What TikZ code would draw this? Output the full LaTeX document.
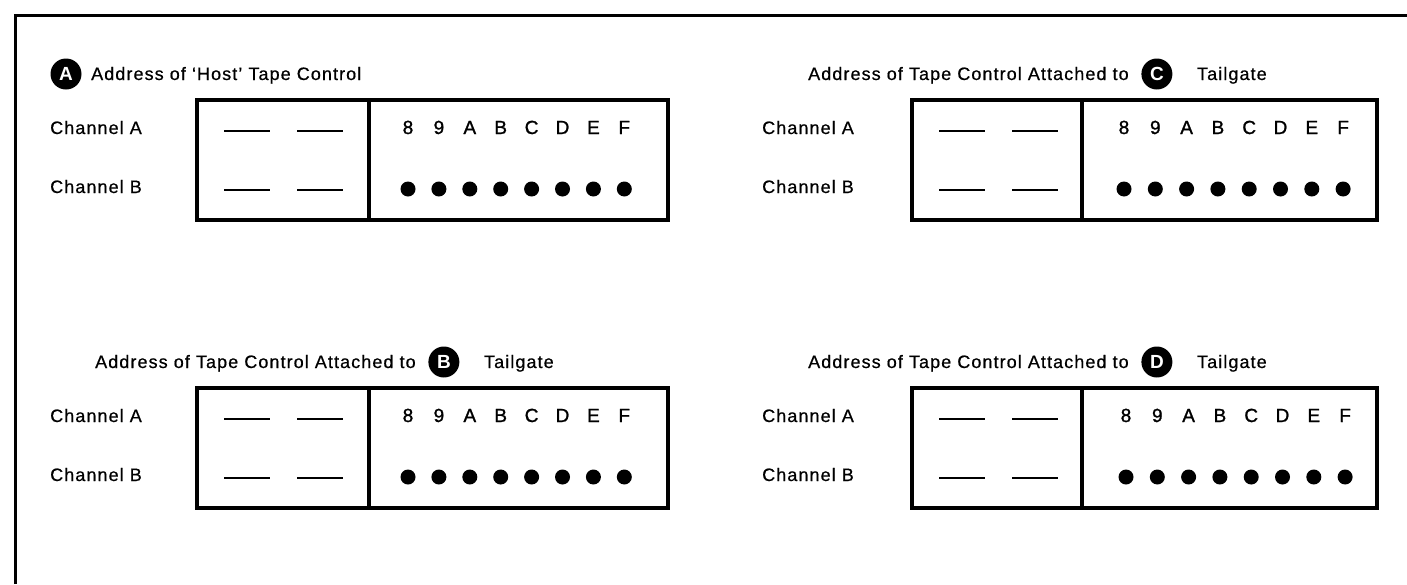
\documentclass[tikz,border=0pt]{standalone}
\usepackage{fontspec}
\setmainfont{Liberation Sans}[LetterSpace=6,FakeBold=0.6]
\newfontfamily\hexfont{Liberation Sans}[FakeBold=1.2]
\newfontfamily\badgefont{Liberation Sans Bold}
\tikzset{
  lbl/.style={font=\fontsize{18}{21}\selectfont, anchor=base west, inner sep=0pt},
  badge/.style={circle, fill=black, minimum size=31pt, inner sep=0pt, text=white,
    font=\badgefont\fontsize{19}{21}\selectfont},
  hex/.style={font=\hexfont\fontsize{19}{21}\selectfont, anchor=base, inner sep=0pt},
  dotmark/.style={circle, fill=black, minimum size=15pt, inner sep=0pt},
  panelbox/.style={draw, line width=3.2pt},
  dashln/.style={line width=2.6pt},
  framelin/.style={line width=3pt},
}
\newcommand{\tcpanel}[8]{%
  \pgfmathsetmacro\pT{100+#8}%
  \pgfmathsetmacro\pB{220+#8}%
  \pgfmathsetmacro\yA{134+#8}%
  \pgfmathsetmacro\yB{193+#8}%
  \pgfmathsetmacro\dA{131+#8}%
  \pgfmathsetmacro\dB{190+#8}%
  \pgfmathsetmacro\dotY{189+#8}%
  \pgfmathsetmacro\xa{#2+27}\pgfmathsetmacro\xb{#2+73}%
  \pgfmathsetmacro\xc{#2+100}\pgfmathsetmacro\xd{#2+146}%
  \draw[panelbox] (#2,\pT) rectangle (#3,\pB);
  \draw[panelbox] (#4,\pT) -- (#4,\pB);
  \node[lbl] (#1chA) at (#5,\yA) {Channel A};
  \node[lbl] (#1chB) at (#5,\yB) {Channel B};
  \draw[dashln] (\xa,\dA) -- (\xb,\dA);
  \draw[dashln] (\xc,\dA) -- (\xd,\dA);
  \draw[dashln] (\xa,\dB) -- (\xb,\dB);
  \draw[dashln] (\xc,\dB) -- (\xd,\dB);
  \foreach \c [count=\i from 0] in {8,9,A,B,C,D,E,F}{
    \node[hex] (#1h\i) at ({#6+\i*#7},\yA) {\c};
    \node[dotmark] (#1d\i) at ({#6+\i*#7},\dotY) {};
  }
}
\begin{document}
\begin{tikzpicture}[x=1pt,y=-1pt]
\useasboundingbox (0,0) rectangle (1407,584);
\fill[white] (0,0) rectangle (1407,584);
\draw[framelin] (15,584) -- (15,15) -- (1407,15);

% Panel A
\node[badge] (bA) at (66,74) {A};
\node[lbl] (hA) at (91,80) {Address of `Host' Tape Control};
\tcpanel{a}{197}{668}{369}{50}{408}{30.9}{0}

% Panel C
\node[lbl] (hC) at (808,80) {Address of Tape Control Attached to};
\node[badge] (bC) at ([xshift=28pt,yshift=6pt]hC.base east) {C};
\node[lbl] (tC) at ([xshift=40pt,yshift=-6pt]bC.center) {Tailgate};
\tcpanel{c}{912}{1377}{1082}{762}{1124}{31.3}{0}

% Panel B
\node[lbl] (hB) at (95,368) {Address of Tape Control Attached to};
\node[badge] (bB) at ([xshift=28pt,yshift=6pt]hB.base east) {B};
\node[lbl] (tB) at ([xshift=40pt,yshift=-6pt]bB.center) {Tailgate};
\tcpanel{b}{197}{668}{369}{50}{408}{30.9}{288}

% Panel D
\node[lbl] (hD) at (808,368) {Address of Tape Control Attached to};
\node[badge] (bD) at ([xshift=28pt,yshift=6pt]hD.base east) {D};
\node[lbl] (tD) at ([xshift=40pt,yshift=-6pt]bD.center) {Tailgate};
\tcpanel{d}{912}{1377}{1082}{762}{1126}{31.3}{288}
\end{tikzpicture}
\end{document}
